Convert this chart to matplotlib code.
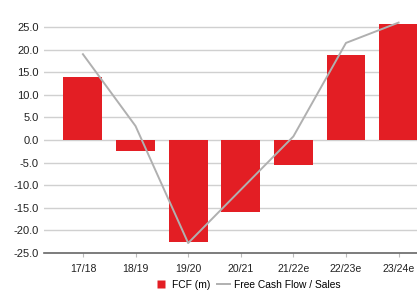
import numpy as np
import matplotlib
matplotlib.use('Agg')
import matplotlib.pyplot as plt
from matplotlib.lines import Line2D

# chart data
years = ['17/18', '18/19', '19/20', '20/21', '21/22e', '22/23e', '23/24e']
fcf = [14.0, -2.4, -22.6, -16.0, -5.5, 18.8, 25.7]
fcf_sales = [19.0, 3.1, -22.8, -11.0, 0.8, 21.5, 26.0]
yticks = [25.0, 20.0, 15.0, 10.0, 5.0, 0.0, -5.0, -10.0, -15.0, -20.0, -25.0]

plt.rcParams['font.family'] = ['Liberation Sans', 'DejaVu Sans']

fig = plt.figure(figsize=(4.17, 2.91), dpi=100)
ax = fig.add_axes([44 / 417, 38 / 291, 1 - 44 / 417, 1 - 38 / 291])

x = np.arange(len(years))
ax.bar(x, fcf, width=0.74, color='#e31e24', zorder=2)
ax.plot(x, fcf_sales, color='#b0b0b0', linewidth=1.4, zorder=3)

ax.set_xlim(-0.74, 6.35)
ax.set_ylim(-25, 31)

ax.set_yticks(yticks)
ax.set_yticklabels([f'{v:.1f}' for v in yticks], fontsize=8, color='#222222')
ax.set_xticks(x)
ax.set_xticklabels(years, fontsize=7.6, color='#222222')

ax.tick_params(axis='y', length=0, pad=4)
ax.tick_params(axis='x', length=3, color='#bbbbbb', pad=5)

for v in yticks:
    if v != -25.0:
        ax.axhline(v, color='#d0d0d0', linewidth=1.0, zorder=1)

for s in ['top', 'right', 'left']:
    ax.spines[s].set_visible(False)
ax.spines['bottom'].set_color('#666666')
ax.spines['bottom'].set_linewidth(1.2)

# legend: small red square for the bars, grey line for the ratio
h_bar = Line2D([], [], linestyle='none', marker='s', markersize=5.5,
               markerfacecolor='#e31e24', markeredgecolor='none')
h_line = Line2D([], [], color='#b0b0b0', linewidth=1.4)
fig.legend([h_bar, h_line], ['FCF (m)', 'Free Cash Flow / Sales'],
           loc='center', bbox_to_anchor=(0.594, 0.022), ncol=2, frameon=False,
           fontsize=7.4, handlelength=1.2, handletextpad=0.4,
           columnspacing=0.7, borderpad=0)

fig.savefig('out.png', dpi=100)
